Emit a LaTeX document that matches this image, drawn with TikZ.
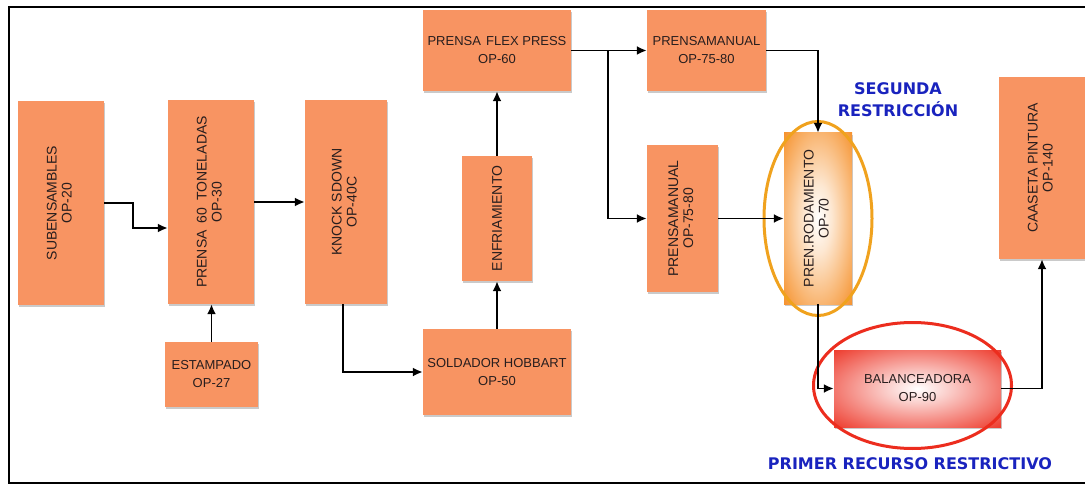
\documentclass[tikz,border=0pt]{standalone}
\usepackage{fontspec}
\setmainfont{Liberation Sans}
\newfontfamily\calloutfont{DejaVu Sans}
\usepackage{tikz}
\usetikzlibrary{shapes.geometric,arrows.meta,shadows}
\definecolor{opsalmon}{RGB}{248,148,98}
\definecolor{oporange}{RGB}{245,138,30}
\definecolor{opring}{RGB}{240,162,30}
\definecolor{opred}{RGB}{236,45,30}
\definecolor{opblue}{RGB}{25,35,190}
\definecolor{optext}{RGB}{40,30,30}
\pgfdeclareradialshading{rodglow}{\pgfpoint{0bp}{0bp}}{color(0bp)=(white); color(10bp)=(white!80!oporange); color(38bp)=(oporange); color(50bp)=(oporange)}
\pgfdeclareradialshading{balglow}{\pgfpoint{0bp}{0bp}}{color(0bp)=(white); color(10bp)=(white!75!opred); color(38bp)=(opred); color(50bp)=(opred)}
\newcommand{\vlabel}[2]{\rotatebox{90}{\fontsize{14}{15}\selectfont\begin{tabular}{@{}c@{}}#1\\#2\end{tabular}}}

\begin{document}
\begin{tikzpicture}[x=1pt, y=-1pt,
    opbox/.style={fill=opsalmon, text=optext, inner sep=0pt,
      drop shadow={shadow xshift=1pt, shadow yshift=-2pt, fill=black!60, opacity=0.35}},
    htext/.style={font=\fontsize{13}{18}\selectfont, align=center},
    ring/.style={ellipse, draw, line width=3pt, inner sep=0pt},
    flow/.style={-{Latex[length=10pt,width=9pt]}, line width=1.9pt},
    callout/.style={font=\calloutfont\bfseries\fontsize{16}{22}\selectfont, text=opblue, align=center}]
    \useasboundingbox (0,0) rectangle (1085,484);
    % Frame (open on the right)
    \draw[line width=1.2pt] (1085,7) -| (9,483) -- (1085,483);

    % Stations
    \node[opbox, minimum width=86, minimum height=203] (sub) at (61,203) {\vlabel{SUBENSAMBLES}{OP-20}};
    \node[opbox, minimum width=86, minimum height=204] (p60) at (211,202) {\vlabel{PRENSA\hspace{0.5em}60\hspace{0.5em}TONELADAS}{OP-30}};
    \node[opbox, htext, minimum width=93, minimum height=65] (estamp) at (211.5,374.5) {ESTAMPADO\\OP-27};
    \node[opbox, minimum width=82, minimum height=204] (knock) at (346,202) {\vlabel{KNOCK SDOWN}{OP-40C}};
    \node[opbox, htext, minimum width=148, minimum height=86] (sold) at (497,372) {SOLDADOR HOBBART\\OP-50};
    \node[opbox, minimum width=70, minimum height=125] (enf) at (497,218.5) {\rotatebox{90}{\fontsize{14}{15}\selectfont ENFRIAMIENTO}};
    \node[opbox, htext, minimum width=148, minimum height=81] (flex) at (497,50.5) {PRENSA\hspace{0.4em}FLEX PRESS\\OP-60};
    \node[opbox, htext, minimum width=119, minimum height=81] (pm1) at (706.5,50.5) {PRENSAMANUAL\\OP-75-80};
    \node[opbox, minimum width=71, minimum height=147] (pm2) at (682.5,218.5) {\vlabel{PRENSAMANUAL}{OP-75-80}};
    \node[opbox, shading=rodglow, minimum width=68, minimum height=171] (rod) at (818,218.5) {\vlabel{PREN.RODAMIENTO}{OP-70}};
    \node[opbox, htext, shading=balglow, minimum width=167, minimum height=77] (bal) at (917.5,388.5) {BALANCEADORA\\OP-90};
    \node[opbox, minimum width=86, minimum height=182] (cas) at (1042,168) {\vlabel{CAASETA PINTURA}{OP-140}};

    % Restriction rings
    \node[ring, draw=opring, minimum width=108, minimum height=194] (rodring) at (rod.center) {};
    \node[ring, draw=opred, minimum width=198, minimum height=126] (balring) at ([shift={(-5,-3)}]bal.center) {};

    % Callouts
    \node[callout] (seglbl) at (898,100) {SEGUNDA\\RESTRICCIÓN};
    \node[callout] (primlbl) at (910,464) {PRIMER RECURSO RESTRICTIVO};

    % Flow
    \draw[flow] (sub.east) -- ++(29,0) |- ([yshift=-26pt]p60.west);
    \draw[flow] (p60.east) -- (knock.west);
    \draw[flow] (estamp.north) -- (estamp.north |- p60.south);
    \draw[flow] ([xshift=-3pt]knock.south) |- (sold.west);
    \draw[flow] (sold.north) -- (enf.south);
    \draw[flow] (enf.north) -- (flex.south);
    \draw[flow] (flex.east) -- (pm1.west);
    \draw[flow] (flex.east) -- ++(37,0) |- (pm2.west);
    \draw[flow] (pm1.east) -| (rod.north);
    \draw[flow] (pm2.east) -- (rod.west);
    \draw[flow] (rod.south) |- (bal.west);
    \draw[flow] (bal.east) -| (cas.south);
\end{tikzpicture}
\end{document}
